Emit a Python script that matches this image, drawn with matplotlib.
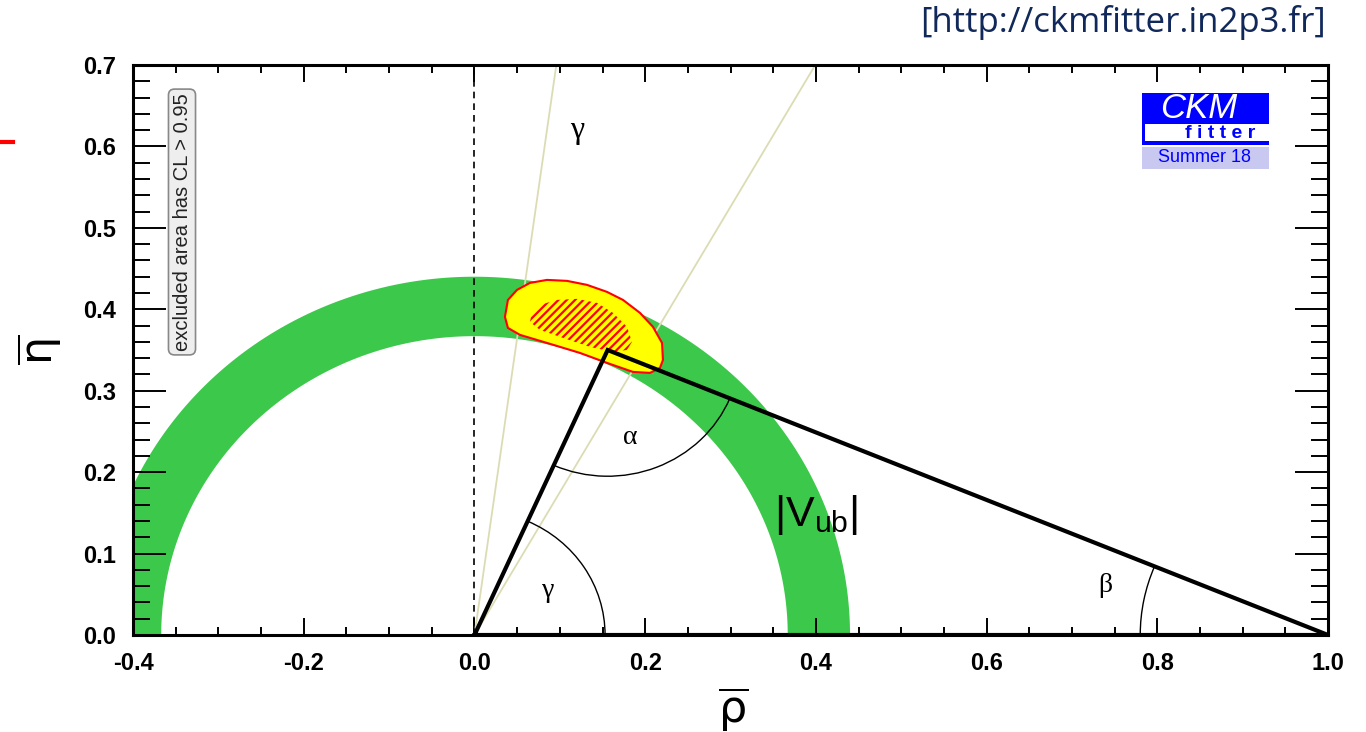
import numpy as np
import matplotlib.pyplot as plt
from matplotlib.patches import Polygon, Rectangle, Arc
from matplotlib.ticker import MultipleLocator

plt.rcParams['font.family'] = ['Liberation Sans', 'DejaVu Sans']
plt.rcParams['mathtext.fontset'] = 'custom'
plt.rcParams['mathtext.rm'] = 'Liberation Sans'
plt.rcParams['mathtext.it'] = 'Liberation Sans:italic'
plt.rcParams['hatch.linewidth'] = 1.6

# apex of the unitarity triangle
apex_rho, apex_eta = 0.156, 0.350

# |Vub| band (radii) and gamma band (angles, deg)
vub_band = [0.367, 0.440]
gamma_band = [60.3, 82.2]

# 95% CL region (yellow) and 68% CL (hatched)
cl95_rho = [0.0357, 0.0392, 0.0498, 0.0650, 0.0849, 0.1084, 0.1318, 0.1552, 0.1740, 0.1939, 0.2091,
            0.2197, 0.2208, 0.2173, 0.2056, 0.1857, 0.1552, 0.1236, 0.0849, 0.0533, 0.0392]
cl95_eta = [0.3907, 0.4115, 0.4238, 0.4324, 0.4361, 0.4349, 0.4300, 0.4214, 0.4115, 0.3956, 0.3784,
            0.3587, 0.3378, 0.3280, 0.3219, 0.3231, 0.3342, 0.3464, 0.3587, 0.3686, 0.3771]
cl68_rho = [0.0674, 0.0767, 0.0966, 0.1201, 0.1435, 0.1623, 0.1787, 0.1845, 0.1787, 0.1623, 0.1353,
            0.1037, 0.0767, 0.0650]
cl68_eta = [0.3968, 0.4054, 0.4115, 0.4128, 0.4079, 0.3956, 0.3784, 0.3600, 0.3501, 0.3477, 0.3538,
            0.3649, 0.3747, 0.3845]

# angle arc radii
r_gamma, r_alpha, r_beta = 0.153, 0.155, 0.22

fig = plt.figure(figsize=(13.66, 7.32), dpi=100)
ax = fig.add_axes([0.0974, 0.1325, 0.8748, 0.7787])

#%% Vub ring
th = np.linspace(0, np.pi, 300)
xs = np.concatenate([vub_band[1]*np.cos(th), vub_band[0]*np.cos(th[::-1])])
ys = np.concatenate([vub_band[1]*np.sin(th), vub_band[0]*np.sin(th[::-1])])
ax.fill(xs, ys, color='#3cc84a', lw=0, zorder=1)

#%% gamma lines
for g in gamma_band:
    t = np.radians(g)
    ax.plot([0, 0.7/np.tan(t)], [0, 0.7], color='#dcdcb4', lw=1.3, zorder=2)

ax.axvline(0, color='k', ls=(0, (4, 3)), lw=1.2, zorder=2)

#%% CL regions
ax.add_patch(Polygon(np.column_stack([cl95_rho, cl95_eta]), closed=True, fc='#ffff00',
                     ec='#ff0000', lw=1.5, zorder=3))
ax.add_patch(Polygon(np.column_stack([cl68_rho, cl68_eta]), closed=True, fc='none',
                     ec='#ff0000', lw=0, hatch='////', zorder=4))

#%% triangle
ax.plot([0, apex_rho, 1, 0], [0, apex_eta, 0, 0], color='k', lw=3, zorder=6, solid_joinstyle='miter')

#%% angle arcs
a_left = np.degrees(np.arctan2(apex_eta, apex_rho))
a_right = np.degrees(np.arctan2(-apex_eta, 1 - apex_rho))
ax.add_patch(Arc((0, 0), 2*r_gamma, 2*r_gamma, theta1=0, theta2=a_left, color='k', lw=1, zorder=5))
ax.add_patch(Arc((apex_rho, apex_eta), 2*r_alpha, 2*r_alpha, theta1=a_left + 180,
                 theta2=360 + a_right, color='k', lw=1, zorder=5))
ax.add_patch(Arc((1, 0), 2*r_beta, 2*r_beta, theta1=180 + a_right, theta2=180, color='k', lw=1, zorder=5))

serif = ['Liberation Serif', 'DejaVu Serif']
ax.text(0.086, 0.055, 'γ', fontsize=20, family=serif, ha='center', va='center', zorder=7)
ax.text(0.182, 0.243, 'α', fontsize=20, family=serif, ha='center', va='center', zorder=7)
ax.text(0.739, 0.061, 'β', fontsize=20, family=serif, ha='center', va='center', zorder=7)
ax.text(0.120, 0.620, 'γ', fontsize=23, family=serif, ha='center', va='center', zorder=7)
ax.text(0.40, 0.147, r'$\mathrm{|V_{ub}|}$', fontsize=31, ha='center', va='center', zorder=7)

fig.text(182/1366, 1 - 222/732, 'excluded area has CL > 0.95', rotation=90, fontsize=14.5,
         ha='center', va='center', color='#222222',
         bbox=dict(boxstyle='round,pad=0.2,rounding_size=0.3', fc='#eeeeee', ec='#888888', lw=1.2))

#%% axes style
ax.xaxis.set_major_locator(MultipleLocator(0.2))
ax.xaxis.set_minor_locator(MultipleLocator(0.05))
ax.yaxis.set_major_locator(MultipleLocator(0.1))
ax.yaxis.set_minor_locator(MultipleLocator(0.02))
ax.tick_params(axis='both', which='both', direction='in', top=True, right=True, width=1.4)
ax.tick_params(axis='x', which='major', length=12, pad=12)
ax.tick_params(axis='x', which='minor', length=6)
ax.tick_params(axis='y', which='major', length=24, pad=12)
ax.tick_params(axis='y', which='minor', length=12)
ax.set_xlim(-0.4, 1.0)
ax.set_ylim(0, 0.7)
xt = np.arange(-0.4, 1.01, 0.2)
yt = np.arange(0, 0.71, 0.1)
ax.set_xticks(xt)
ax.set_xticklabels(['%.1f' % v for v in xt], fontweight='bold', fontsize=17)
ax.set_yticks(yt)
ax.set_yticklabels(['%.1f' % v for v in yt], fontweight='bold', fontsize=17)
ax.set_xlim(-0.4, 1.0)
ax.set_ylim(0, 0.7)
for s in ax.spines.values():
    s.set_linewidth(2.2)

fig.text(733/1366, 1 - 710/732, r'$\overline{\mathrm{\rho}}$', fontsize=32, ha='center', va='center',
         math_fontfamily='dejavusans')
fig.text(40/1366, 1 - 350/732, r'$\overline{\mathrm{\eta}}$', fontsize=32, ha='center', va='center',
         rotation=90, math_fontfamily='dejavusans')

#%% header, logo, marker
fig.text(1326/1366, 1 - 22/732, '[http://ckmfitter.in2p3.fr]', fontsize=25, ha='right', va='center',
         color='#10285a', family=['Open Sans', 'DejaVu Sans'])
fig.add_artist(plt.Line2D([0, 13/1366], [1 - 142/732]*2, color='#ff0000', lw=3))

def px_rect(x0, y0, x1, y1, **kw):
    return Rectangle((x0/1366, 1 - y1/732), (x1 - x0)/1366, (y1 - y0)/732,
                     transform=fig.transFigure, **kw)

fig.add_artist(px_rect(1142, 93, 1269, 145, fc='#0000ff', ec='none'))
fig.add_artist(px_rect(1145, 124, 1269, 141, fc='white', ec='none'))
fig.add_artist(px_rect(1142, 147, 1269, 169, fc='#c8c8f0', ec='none'))
fig.text(1199/1366, 1 - 108/732, 'CKM', fontsize=25, style='italic', color='white',
         ha='center', va='center')
fig.text(1220/1366, 1 - 133/732, 'f i t t e r', fontsize=14, fontweight='bold', color='#0000ff',
         ha='center', va='center')
fig.text(1205/1366, 1 - 158/732, 'Summer 18', fontsize=13, color='#0000ff', ha='center', va='center')

fig.savefig('out.png', dpi=100)
